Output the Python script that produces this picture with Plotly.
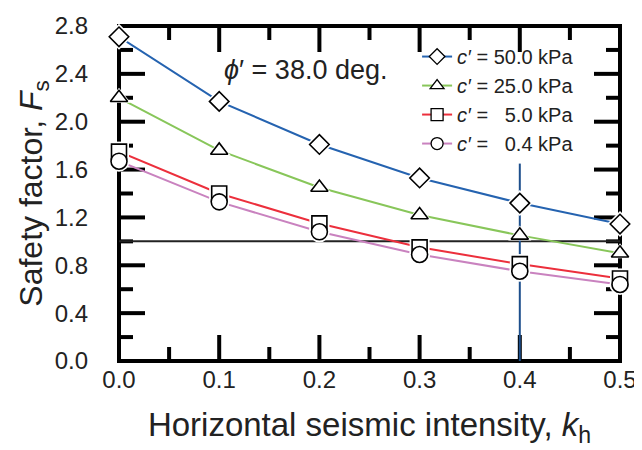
import plotly.graph_objects as go

# ---- data ----
kh = [0.0, 0.1, 0.2, 0.3, 0.4, 0.5]
fs_c50 = [2.71, 2.17, 1.81, 1.53, 1.32, 1.145]
fs_c25 = [2.20, 1.76, 1.45, 1.22, 1.05, 0.90]
fs_c5 = [1.75, 1.40, 1.15, 0.95, 0.81, 0.69]
fs_c04 = [1.67, 1.33, 1.08, 0.89, 0.75, 0.64]
series_names = ["<i>c′</i> = 50.0 kPa", "<i>c′</i> = 25.0 kPa",
                "<i>c′</i> =\u00a0\u00a0\u00a05.0 kPa", "<i>c′</i> =\u00a0\u00a0\u00a00.4 kPa"]
fs_threshold = 1.0
kh_mark = 0.4
kh_mark_top = 1.65

x_range = [0.0, 0.5]
y_range = [0.0, 2.8]
x_major = [0.1, 0.2, 0.3, 0.4]
x_minor = [0.05, 0.15, 0.25, 0.35, 0.45]
y_major = [0.4, 0.8, 1.2, 1.6, 2.0, 2.4]
y_minor = [0.2, 0.6, 1.0, 1.4, 1.8, 2.2, 2.6]

series = [fs_c50, fs_c25, fs_c5, fs_c04]
colors = ["#2563b0", "#88c65a", "#ec2f3c", "#c982bf"]
symbols = ["diamond", "triangle-up", "square", "circle"]
sizes = [15, 15, 15, 16]

FONT = "Liberation Sans, Arial, sans-serif"
TXT = "#222222"
AX = "black"
W, H = 642, 450
ML, MR, MT, MB = 111, 30, 18, 97
MAJ, MIN = 26, 14

fig = go.Figure()

# reference lines
fig.add_trace(go.Scatter(x=x_range, y=[fs_threshold, fs_threshold], mode="lines",
                         line=dict(color="#222222", width=2), showlegend=False, hoverinfo="skip"))
fig.add_trace(go.Scatter(x=[kh_mark, kh_mark], y=[y_range[0], kh_mark_top], mode="lines",
                         line=dict(color="#1d4f8c", width=2), showlegend=False, hoverinfo="skip"))

# series lines
for ys, c in zip(series, colors):
    fig.add_trace(go.Scatter(x=kh, y=ys, mode="lines", line=dict(color=c, width=2),
                             showlegend=False, hoverinfo="skip"))
# white halos (gap between line and marker)
for ys, s, sz in zip(series, symbols, sizes):
    fig.add_trace(go.Scatter(x=kh, y=ys, mode="markers", cliponaxis=False,
                             marker=dict(symbol=s, size=sz + 5, color="white",
                                         line=dict(width=0)),
                             showlegend=False, hoverinfo="skip"))
# markers
for ys, s, sz, name in zip(series, symbols, sizes, series_names):
    fig.add_trace(go.Scatter(x=kh, y=ys, mode="markers", cliponaxis=False, name=name,
                             marker=dict(symbol=s, size=sz, color="white",
                                         line=dict(width=1.6, color="black")),
                             showlegend=False))
# legend entries
for c, s, name in zip(colors, symbols, series_names):
    fig.add_trace(go.Scatter(x=[None], y=[None], mode="lines+markers", name=name,
                             line=dict(color=c, width=2),
                             marker=dict(symbol=s, size=12, color="white",
                                         line=dict(width=1.3, color="black"))))

# frame and inside ticks as layout shapes (pixel-sized ticks anchored on the axes)
shapes = [dict(type="rect", xref="paper", yref="paper", x0=0, x1=1, y0=0, y1=1,
               line=dict(color=AX, width=4), fillcolor="rgba(0,0,0,0)", layer="below")]
for vals, ln in ((x_major, MAJ), (x_minor, MIN)):
    for v in vals:
        for anchor, sgn in ((y_range[0], 1), (y_range[1], -1)):
            shapes.append(dict(type="line", xref="x", yref="y", x0=v, x1=v,
                               ysizemode="pixel", yanchor=anchor, y0=0, y1=sgn * ln,
                               line=dict(color=AX, width=4), layer="below"))
for vals, ln in ((y_major, MAJ), (y_minor, MIN)):
    for v in vals:
        for anchor, sgn in ((x_range[0], 1), (x_range[1], -1)):
            shapes.append(dict(type="line", xref="x", yref="y", y0=v, y1=v,
                               xsizemode="pixel", xanchor=anchor, x0=0, x1=sgn * ln,
                               line=dict(color=AX, width=4), layer="below"))

fig.update_xaxes(range=x_range, tickmode="linear", dtick=0.1, tick0=0, tickformat=".1f",
                 showline=False, ticks="inside", ticklen=MAJ, tickwidth=4,
                 tickcolor="rgba(0,0,0,0)",
                 showgrid=False, zeroline=False, ticklabelstandoff=2, automargin=False,
                 tickfont=dict(family=FONT, size=24, color=TXT),
                 title=dict(text="Horizontal seismic intensity, <i>k</i><sub>h</sub>",
                            font=dict(family=FONT, size=33, color=TXT), standoff=20))
fig.update_yaxes(range=y_range, tickmode="linear", dtick=0.4, tick0=0, tickformat=".1f",
                 showline=False, ticks="inside", ticklen=MAJ, tickwidth=4,
                 tickcolor="rgba(0,0,0,0)",
                 showgrid=False, zeroline=False, ticklabelstandoff=30, automargin=False,
                 tickfont=dict(family=FONT, size=24, color=TXT),
                 title=dict(text="Safety factor, <i>F</i><sub>s</sub>",
                            font=dict(family=FONT, size=32, color=TXT), standoff=2))

fig.add_annotation(x=0.186, y=2.43, xref="x", yref="y", showarrow=False,
                   text="<i>ϕ</i>′ = 38.0 deg.", font=dict(family=FONT, size=27, color=TXT))

fig.update_layout(template="none", width=W, height=H,
                  margin=dict(l=ML, r=MR, t=MT, b=MB, autoexpand=False),
                  plot_bgcolor="white", paper_bgcolor="white", shapes=shapes,
                  legend=dict(x=0.595, y=0.967, xanchor="left", yanchor="top",
                              bgcolor="rgba(0,0,0,0)", font=dict(family=FONT, size=20, color=TXT),
                              tracegroupgap=0, itemsizing="trace"))

fig.write_html("out.html")
